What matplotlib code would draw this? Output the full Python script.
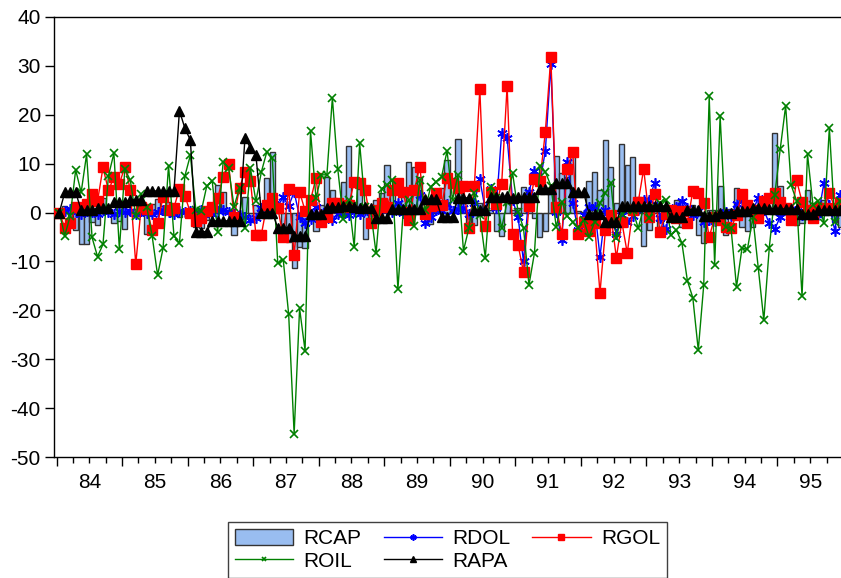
import numpy as np
import matplotlib
matplotlib.use('Agg')
import matplotlib.pyplot as plt

# monthly returns 1984M01 - 1995M12

plt.rcParams['font.family'] = ['Liberation Sans', 'DejaVu Sans']
plt.rcParams['axes.unicode_minus'] = False

year_labels = ['84', '85', '86', '87', '88', '89', '90', '91', '92', '93', '94', '95']

rcap = [0.0, 1.3, -1.0, -3.6, -6.5, -6.4, -2.0, -2.6, 2.9, 0.5, -2.1, -1.7,
        -3.4, 0.3, 0.8, -0.5, -4.3, 1.7, 2.7, 1.4, 2.2, 0.5, -0.9, 0.4,
        0.5, -2.9, -3.2, -1.5, 0.3, 5.6, 4.2, 0.5, -4.6, -1.0, 3.2, -1.9,
        1.5, 0.5, 7.0, 12.4, 0.5, -2.9, -6.0, -11.4, -7.0, -7.3, -0.9, -3.7,
        1.5, 7.3, 4.6, 0.5, 6.3, 13.6, 2.2, 4.9, -5.4, 0.5, 2.6, 4.0,
        9.8, 3.9, 0.8, 4.2, 10.4, 9.4, 7.3, -0.5, -2.3, 3.6, 5.1, 10.7,
        0.5, 15.0, 1.2, -2.2, -2.6, 1.9, 2.2, 0.5, -3.7, -4.8, 1.9, 0.5,
        1.0, 5.3, 4.5, -1.2, -4.9, -3.8, 3.9, 11.6, 8.0, 7.3, 11.5, 0.3,
        0.2, 6.5, 8.2, 4.6, 14.8, 9.4, 1.9, 13.9, 9.7, 11.4, 3.2, -6.8,
        -3.5, 0.8, -2.9, -1.0, 0.5, 2.6, -2.9, 0.5, 1.5, -4.6, -6.3, 0.5,
        0.5, 5.4, -4.6, 0.8, 5.1, -2.9, -3.7, -2.9, 0.5, 1.0, 0.5, 16.3,
        5.4, 0.5, 0.8, -2.6, -2.1, 4.5, 0.5, 0.5, 2.6, 0.5, -1.9, -2.9]

rdol = [0.0, 0.3, 0.8, 0.2, -0.3, 0.4, 0.1, -0.2, 0.5, 0.2, -0.3, 0.3,
        0.1, 0.4, -0.2, 0.3, 0.0, -0.4, 0.2, 0.5, 0.1, -0.3, 0.4, 0.2,
        0.3, -0.2, 0.5, 0.1, -0.3, 0.4, 0.6, 0.2, -0.4, -0.5, -1.0, -1.5,
        -1.2, 0.9, 0.3, 0.5, 1.3, 3.1, 1.3, 4.2, -0.9, -2.2, -1.4, 1.2,
        -1.9, 0.3, -1.5, -0.2, -0.2, -0.5, 0.3, -0.4, 0.5, 0.2, 0.0, 0.9,
        0.5, 0.2, 1.9, 0.0, -0.5, 0.3, 3.6, -2.2, -0.9, 0.5, 0.3, 1.7,
        0.4, 0.8, 1.0, -0.3, 2.0, 6.8, 0.5, 4.9, 1.0, 16.2, 15.3, 2.5,
        -0.9, -10.0, 4.2, 8.5, 6.1, 12.6, 30.3, 0.2, -5.6, 10.4, 2.0, -3.6,
        -0.5, 1.2, 1.2, -9.0, 0.5, -1.0, -4.3, -0.5, -1.9, -0.7, 0.5, 2.6,
        2.6, 6.1, -1.2, -3.4, 0.5, 1.2, 2.3, 1.0, -0.5, 0.3, -1.9, -1.5,
        -1.7, -0.5, 0.2, -0.8, 1.7, 2.5, 0.8, 0.5, 3.0, 0.5, -2.2, -3.4,
        -0.9, 0.5, 0.8, 0.3, -0.5, 0.5, 1.0, -0.5, 6.0, 1.5, -3.7, 3.6]

rgol = [0.0, -3.1, -2.1, 1.2, 1.0, 1.7, 3.7, 2.3, 9.2, 4.5, 7.2, 5.8,
        9.4, 4.7, -10.5, 1.2, 0.8, -3.6, -2.2, 3.2, 0.6, 1.0, 4.9, 3.4,
        0.0, -1.7, -1.2, 0.3, 1.1, 2.9, 7.3, 10.0, -1.0, 5.1, 8.3, 6.5,
        -4.5, -4.5, 1.5, 3.0, 1.0, -5.0, 4.9, -8.6, 4.2, 0.4, 2.5, 7.1,
        -1.9, -0.9, 2.0, 2.0, 1.1, 1.5, 6.3, 6.1, 4.7, -2.1, 0.5, 1.9,
        1.2, 4.6, 6.1, 4.1, -1.5, 4.5, 9.4, -0.4, 1.3, 3.9, 1.5, 7.1,
        6.1, 5.0, 5.4, -3.2, 5.4, 25.2, -2.7, 4.2, 1.7, 5.8, 25.9, -4.4,
        -6.6, -12.2, 1.4, 6.8, 6.5, 16.5, 31.7, 1.2, -4.4, 8.8, 12.4, -4.3,
        -2.0, -3.7, -2.1, -16.4, -3.6, -0.6, -9.2, -1.9, -8.3, 0.5, 2.1, 8.9,
        -0.9, 3.8, -3.9, -0.2, 0.5, -1.2, 0.3, -2.1, 4.4, 3.9, 2.0, -5.1,
        -0.9, -1.5, -2.9, -3.2, -0.5, 3.8, 1.5, 0.5, -1.2, 2.3, 2.9, 4.0,
        2.1, 1.0, -1.5, 6.6, 2.2, 0.5, -1.2, 1.0, 1.0, 4.0, 1.0, 2.0]

roil = [0.0, -4.7, -0.7, 8.7, 4.1, 11.9, -5.1, -9.0, -6.5, 7.5, 12.1, -7.5,
        8.9, 6.6, -0.7, 3.7, 1.2, -4.8, -12.8, -7.3, 9.6, -4.8, -6.2, 7.5,
        11.7, 0.6, 0.3, 5.4, 6.4, -3.9, 10.4, 9.0, 1.2, 5.1, -3.2, 9.0,
        2.3, 8.3, 12.4, 11.2, -10.4, -9.6, -20.8, -45.2, -19.6, -28.2, 16.6, 2.9,
        7.7, 7.7, 23.4, 8.8, -1.3, 2.6, -7.0, 14.1, 1.2, 0.5, -8.3, 4.9,
        5.6, 6.6, -15.7, 0.8, 2.6, -2.8, 6.6, 0.5, 5.3, 6.3, 7.3, 12.6,
        2.6, 7.7, -7.8, -3.2, 3.9, -0.5, -9.2, 5.3, 2.9, -3.2, 2.2, 8.1,
        0.2, -3.2, -14.8, -8.3, 9.5, 8.3, 5.5, -3.0, 2.2, -0.7, -2.0, -3.2,
        -1.5, -5.0, -2.0, 1.9, 4.0, 6.0, -5.3, -0.2, 0.5, 0.5, -3.2, 1.0,
        -1.2, 1.0, 1.9, 2.6, -4.6, -3.6, -6.2, -13.9, -17.4, -28.1, -14.8, 23.7,
        -10.7, 19.7, -2.9, -3.2, -15.2, -7.3, -7.5, -1.0, -11.4, -22.0, -7.2, 3.6,
        12.9, 21.8, 5.6, 2.4, -17.1, 11.9, 1.5, 2.3, -2.2, 17.3, -2.0, 2.4]

rapa = [0.0, 4.1, 4.1, 4.1, 0.5, 0.5, 0.5, 0.9, 0.9, 0.9, 2.1, 2.1,
        2.1, 2.6, 2.6, 2.6, 4.4, 4.4, 4.4, 4.4, 4.4, 4.4, 20.8, 17.2,
        14.8, -3.9, -3.9, -3.9, -1.7, -1.7, -1.7, -1.7, -1.7, -1.7, 15.3, 13.2,
        11.7, 0.0, 0.0, 0.0, -3.1, -3.1, -3.1, -4.7, -4.7, -4.7, -0.3, -0.3,
        -0.3, 1.0, 1.2, 1.1, 1.3, 1.3, 1.2, 1.0, 1.1, 0.9, -1.2, -1.2,
        -1.2, 0.7, 0.7, 0.7, 0.7, 0.7, 0.7, 2.7, 2.7, 2.7, -0.9, -0.9,
        -0.9, 3.0, 3.0, 3.0, 0.5, 0.5, 0.5, 3.2, 3.1, 3.2, 3.3, 3.0,
        3.1, 3.2, 3.1, 3.2, 4.9, 4.9, 4.9, 6.0, 6.0, 6.0, 4.1, 4.1,
        4.1, -0.2, -0.2, -0.2, -2.0, -2.0, -2.0, 1.3, 1.3, 1.3, 1.3, 1.3,
        1.3, 1.3, 1.3, 1.3, -0.9, -0.9, -0.9, 0.6, 0.6, 0.6, -0.7, -0.7,
        -0.7, 0.0, 0.0, 0.0, 0.4, 0.4, 0.4, 0.9, 0.9, 0.9, 0.8, 0.8,
        0.8, 0.7, 0.7, 0.7, -0.2, -0.2, -0.2, 0.5, 0.5, 0.5, 0.6, 0.6]

x = np.arange(len(rcap))

fig = plt.figure(figsize=(8.41, 5.78), dpi=100)
ax = fig.add_axes([54 / 841, 1 - 457.3 / 578, 789 / 841, 440.6 / 578])

ax.bar(x, rcap, width=0.95, color='#99bdf0', edgecolor='#333333', linewidth=1.0,
       label='RCAP', zorder=2)
ax.axhline(0, color='#333333', lw=0.8, zorder=2)
ax.plot(x, rdol, color='#0000ff', lw=1, marker=(6, 2, 0), ms=7.5, mew=1.2,
        label='RDOL', zorder=3)
ax.plot(x, rgol, color='#ff0000', lw=1, marker='s', ms=6.5, label='RGOL', zorder=4)
ax.plot(x, roil, color='#008000', lw=1, marker='x', ms=6, mew=1.2,
        label='ROIL', zorder=5)
ax.plot(x, rapa, color='black', lw=1, marker='^', ms=7, label='RAPA', zorder=6)

ax.set_xlim(-0.97, 143.5)
ax.set_ylim(-50, 40)
ax.set_yticks(np.arange(-50, 41, 10))
ax.tick_params(axis='y', direction='out', length=6.5, width=1, pad=3, labelsize=15)

# quarter ticks, longer at year boundaries
ax.set_xticks(np.arange(0, 145, 12) - 0.5)
ax.set_xticks(np.arange(0, 145, 3) - 0.5, minor=True)
ax.tick_params(axis='x', which='major', direction='out', length=6.5, width=1, labelbottom=False)
ax.tick_params(axis='x', which='minor', direction='out', length=4.3, width=1)

sec = ax.secondary_xaxis('bottom')
sec.set_xticks(np.arange(len(year_labels)) * 12 + 5.5, year_labels)
sec.tick_params(length=0, pad=11, labelsize=15)
sec.spines['bottom'].set_visible(False)

for s in ax.spines.values():
    s.set_linewidth(1)
    s.set_color('black')

handles, labels = ax.get_legend_handles_labels()
hd = dict(zip(labels, handles))
order = ['RCAP', 'ROIL', 'RDOL', 'RAPA', 'RGOL']
leg = fig.legend([hd[k] for k in order], order, loc='upper center',
                 bbox_to_anchor=(447.5 / 841, 1 - 521.5 / 578), ncol=3, fontsize=15,
                 frameon=True, fancybox=False, edgecolor='#404040', framealpha=1,
                 handlelength=2.8, handleheight=0.85, handletextpad=0.5,
                 columnspacing=1.05, labelspacing=0.15, borderpad=0.35,
                 markerscale=0.6, numpoints=1, borderaxespad=0)
leg.get_frame().set_linewidth(1)

fig.savefig('out.png', dpi=100)
